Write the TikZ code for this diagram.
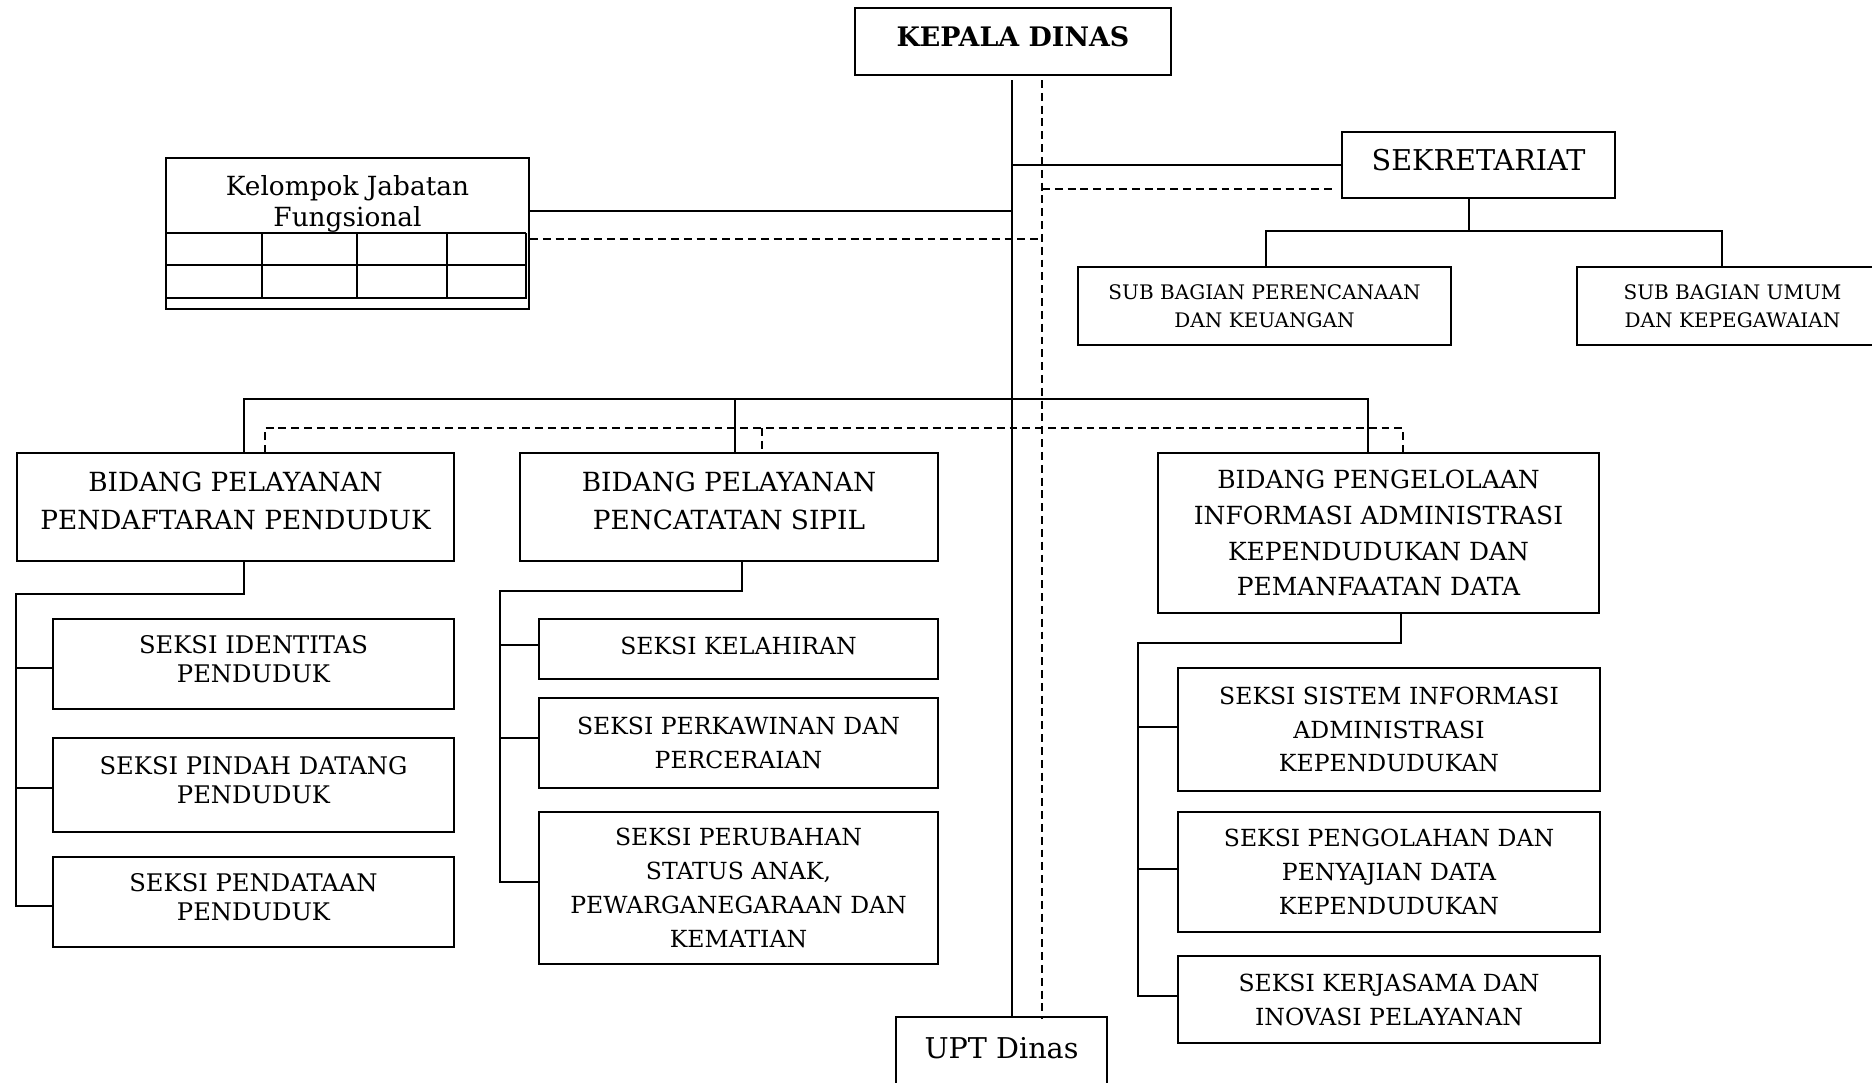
\documentclass[tikz,border=0pt]{standalone}
\usepackage{fontspec}
\setmainfont{DejaVu Serif}
\newcommand\bxnode[7]{%
  \pgfmathsetmacro\bxcx{(#2+#4)/2}\pgfmathsetmacro\bxcy{(#3+#5)/2}%
  \pgfmathsetmacro\bxw{(#4-#2)*0.02}\pgfmathsetmacro\bxh{(#5-#3)*0.02}%
  \node[box,#6,minimum width=\bxw cm,minimum height=\bxh cm] (#1) at (\bxcx,\bxcy) {#7};}
\begin{document}
\begin{tikzpicture}[x=0.02cm,y=-0.02cm,
  box/.style={draw,line width=1.1pt,inner sep=0pt,align=center,anchor=center},
  conn/.style={line width=1.1pt},
  dconn/.style={line width=1.1pt,dash pattern=on 4.5pt off 2.8pt},
  fbid/.style={font=\fontsize{15}{21.6}\selectfont,text depth=6.8pt},
  fbidc/.style={font=\fontsize{14.2}{20.4}\selectfont},
  fsek/.style={font=\fontsize{13.4}{19.3}\selectfont},
  fseka/.style={font=\fontsize{13.8}{16.5}\selectfont,text depth=5.7pt},
  fsub/.style={font=\fontsize{11.4}{15.9}\selectfont}]
\useasboundingbox (0,0) rectangle (1872,1082);
% top level
\bxnode{kd}{855}{8}{1171}{75}{font=\bfseries\fontsize{15.3}{17}\selectfont,text depth=5.6pt}{KEPALA DINAS}
\bxnode{sek}{1342}{132}{1615}{198}{font=\fontsize{16.3}{20}\selectfont,text depth=5.6pt}{SEKRETARIAT}
\bxnode{kjf}{166}{158}{529}{309}{}{}
\node[align=center,inner sep=0pt,font=\fontsize{15}{18.1}\selectfont] (kjft) at (347.5,204) {Kelompok Jabatan\\Fungsional};
\bxnode{upt}{896}{1017}{1107}{1095}{}{}
\node[inner sep=0pt,font=\fontsize{16.3}{20}\selectfont] (uptt) at (1001.5,1048) {UPT Dinas};
% table in Kelompok box
\foreach \yy in {233,265,298} \draw[conn] (166,\yy) -- (526,\yy);
\foreach \xx in {262,357,447,526} \draw[conn] (\xx,233) -- (\xx,299);
% sub bagian
\bxnode{sbp}{1078}{267}{1451}{345}{fsub}{SUB BAGIAN PERENCANAAN\\DAN KEUANGAN}
\bxnode{sbu}{1577}{267}{1888}{345}{fsub}{SUB BAGIAN UMUM\\DAN KEPEGAWAIAN}
% bidang
\bxnode{bid1}{17}{453}{454}{561}{fbid}{BIDANG PELAYANAN\\PENDAFTARAN PENDUDUK}
\bxnode{bid2}{520}{453}{938}{561}{fbid}{BIDANG PELAYANAN\\PENCATATAN SIPIL}
\bxnode{bid3}{1158}{453}{1599}{613}{fbidc}{BIDANG PENGELOLAAN\\INFORMASI ADMINISTRASI\\KEPENDUDUKAN DAN\\PEMANFAATAN DATA}
% seksi column 1
\bxnode{sa}{53}{619}{454}{709}{fseka}{SEKSI IDENTITAS\\PENDUDUK}
\bxnode{sb}{53}{738}{454}{832}{fseka}{SEKSI PINDAH DATANG\\PENDUDUK}
\bxnode{sc}{53}{857}{454}{947}{fseka}{SEKSI PENDATAAN\\PENDUDUK}
% seksi column 2
\bxnode{sk}{539}{619}{938}{679}{fsek,text depth=4pt}{SEKSI KELAHIRAN}
\bxnode{sp}{539}{698}{938}{788}{fsek}{SEKSI PERKAWINAN DAN\\PERCERAIAN}
\bxnode{ss}{539}{812}{938}{964}{fsek}{SEKSI PERUBAHAN\\STATUS ANAK,\\PEWARGANEGARAAN DAN\\KEMATIAN}
% seksi column 3
\bxnode{s1}{1178}{668}{1600}{791}{fsek}{SEKSI SISTEM INFORMASI\\ADMINISTRASI\\KEPENDUDUKAN}
\bxnode{s2}{1178}{812}{1600}{932}{fsek}{SEKSI PENGOLAHAN DAN\\PENYAJIAN DATA\\KEPENDUDUKAN}
\bxnode{s3}{1178}{956}{1600}{1043}{fsek}{SEKSI KERJASAMA DAN\\INOVASI PELAYANAN}
% main spines
\coordinate (ms) at (1012,80);
\coordinate (md) at (1042,80);
\draw[conn] (ms) -- (ms |- upt.north);
\draw[dconn] (md) -- (1042,1019);
% to sekretariat
\draw[conn] (ms |- sek.west) -- (sek.west);
\draw[dconn] (1042,189) -- (1334,189);
% to kelompok
\draw[conn] (kjf.east |- 0,211) -- (ms |- 0,211);
\draw[dconn] (kjf.east |- 0,239) -- (md |- 0,239);
% sekretariat to sub bagian
\coordinate (sj) at (1469,231);
\draw[conn] (sj |- sek.south) -- (sj);
\draw[conn] (1266,231 |- sbp.north) -- (1266,231) -- (1722,231) -- (1722,231 |- sbu.north);
% bidang bus
\draw[conn] (244,453) -- (244,399) -- (1368,399) -- (1368,453);
\draw[conn] (735,399) -- (735,453);
\draw[dconn] (265,453) -- (265,428) -- (1403,428) -- (1403,453);
\draw[dconn] (762,428) -- (762,453);
% bidang 1 tree
\draw[conn] (244,0 |- bid1.south) -- (244,594) -- (16,594) -- (16,906) -- (sc.west |- 0,906);
\draw[conn] (16,668) -- (sa.west |- 0,668);
\draw[conn] (16,788) -- (sb.west |- 0,788);
% bidang 2 tree
\draw[conn] (742,0 |- bid2.south) -- (742,591) -- (500,591) -- (500,882) -- (ss.west |- 0,882);
\draw[conn] (500,645) -- (sk.west |- 0,645);
\draw[conn] (500,738) -- (sp.west |- 0,738);
% bidang 3 tree
\draw[conn] (1401,0 |- bid3.south) -- (1401,643) -- (1138,643) -- (1138,996) -- (s3.west |- 0,996);
\draw[conn] (1138,727) -- (s1.west |- 0,727);
\draw[conn] (1138,869) -- (s2.west |- 0,869);
\end{tikzpicture}
\end{document}
